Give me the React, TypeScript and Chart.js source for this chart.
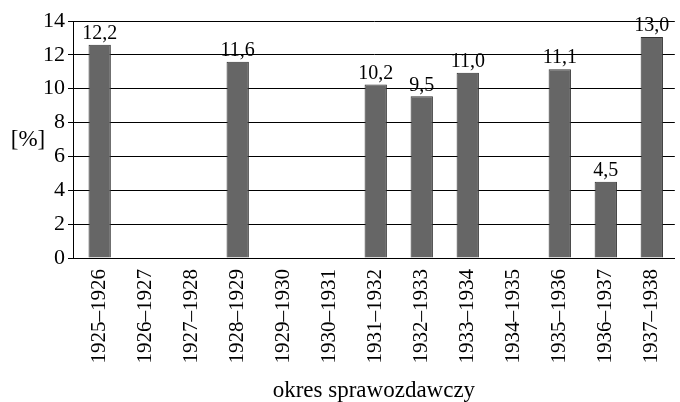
import React, { useEffect, useRef } from "react";
import { Chart, registerables } from "chart.js";

Chart.register(...registerables);

const categories = [
  "1925–1926", "1926–1927", "1927–1928", "1928–1929", "1929–1930", "1930–1931",
  "1931–1932", "1932–1933", "1933–1934", "1934–1935", "1935–1936", "1936–1937", "1937–1938",
];
const barHeights: (number | null)[] = [12.6, null, null, 11.6, null, null, 10.25, 9.55, 10.95, null, 11.15, 4.5, 13.05];
const barLabels: (string | null)[] = ["12,2", null, null, "11,6", null, null, "10,2", "9,5", "11,0", null, "11,1", "4,5", "13,0"];
const yTicks = [0, 2, 4, 6, 8, 10, 12, 14];
const xTitle = "okres sprawozdawczy";
const yTitle = "[%]";

const FONT = "'Liberation Serif', 'Times New Roman', serif";

export default function App() {
  const ref = useRef<HTMLCanvasElement | null>(null);
  useEffect(() => {
    document.body.style.margin = "0";
    const canvas = ref.current!;
    const labelPlugin = {
      id: "barLabels",
      afterDatasetsDraw(chart: any) {
        const ctx = chart.ctx;
        const meta = chart.getDatasetMeta(0);
        ctx.save();
        ctx.font = `20px ${FONT}`;
        ctx.fillStyle = "#000";
        ctx.textAlign = "center";
        ctx.textBaseline = "bottom";
        meta.data.forEach((el: any, i: number) => {
          const t = barLabels[i];
          if (t == null || barHeights[i] == null) return;
          ctx.fillText(t, el.x, el.y - 1);
        });
        ctx.restore();
      },
    };
    const yTitlePlugin = {
      id: "yTitle",
      afterDraw(chart: any) {
        const ctx = chart.ctx;
        const a = chart.chartArea;
        ctx.save();
        ctx.font = `23px ${FONT}`;
        ctx.fillStyle = "#000";
        ctx.textAlign = "center";
        ctx.textBaseline = "middle";
        ctx.fillText(yTitle, 28, (a.top + a.bottom) / 2);
        ctx.restore();
      },
    };
    const chart = new Chart(canvas, {
      type: "bar",
      data: {
        datasets: [
          {
            data: barHeights.map((v, i) => ({ x: i, y: v })) as any,
            backgroundColor: "#666666",
            borderColor: "#333333",
            borderWidth: 1,
            categoryPercentage: 1,
            barPercentage: 0.485,
          },
        ],
      },
      options: {
        animation: false,
        responsive: false,
        maintainAspectRatio: false,
        layout: { padding: { top: 21, right: 0, left: 0, bottom: 0 } },
        plugins: { legend: { display: false }, tooltip: { enabled: false } },
        scales: {
          x: {
            type: "linear",
            offset: false,
            min: -0.58,
            max: 12.5,
            afterBuildTicks: (scale: any) => {
              scale.ticks = categories.map((_, i) => ({ value: i }));
            },
            afterFit: (scale: any) => {
              scale.height = 144;
            },
            grid: { display: false },
            border: { display: true, color: "#000", width: 1 },
            ticks: {
              autoSkip: false,
              minRotation: 90,
              maxRotation: 90,
              padding: 3,
              color: "#000",
              font: { family: FONT, size: 21 },
              callback: (v: any) => categories[v as number] ?? "",
            },
            title: {
              display: true,
              text: xTitle,
              color: "#000",
              font: { family: FONT, size: 23 },
              padding: { top: 0, bottom: -3 },
            },
          },
          y: {
            min: 0,
            max: 14,
            afterBuildTicks: (scale: any) => {
              scale.ticks = yTicks.map((v) => ({ value: v }));
            },
            afterFit: (scale: any) => {
              scale.width = 73;
            },
            grid: { color: "#000", lineWidth: 1, tickLength: 5, drawTicks: true },
            border: { display: true, color: "#000", width: 1 },
            ticks: {
              padding: 3,
              color: "#000",
              font: { family: FONT, size: 22 },
            },
          },
        },
      },
      plugins: [labelPlugin, yTitlePlugin],
    });
    return () => chart.destroy();
  }, []);
  return (
    <div style={{ width: 680, height: 402 }}>
      <canvas ref={ref} width={680} height={402} style={{ display: "block" }} />
    </div>
  );
}
